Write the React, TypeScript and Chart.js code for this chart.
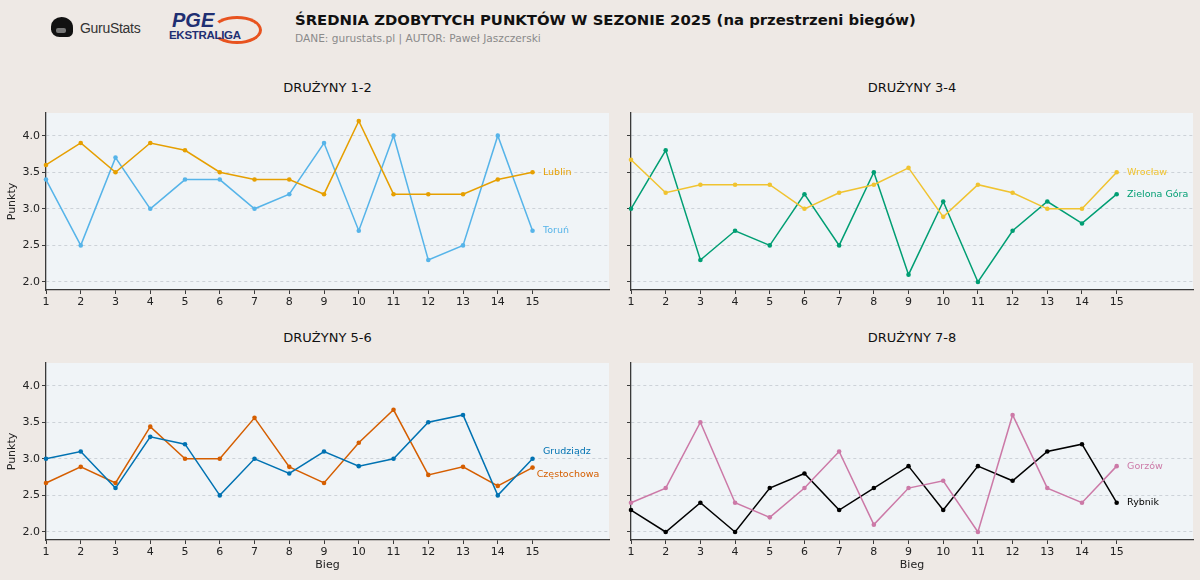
import React, { useEffect, useRef } from "react";
import { Chart, registerables } from "chart.js";

Chart.register(...registerables);

// ---------- DATA ----------
const BIEG = [1, 2, 3, 4, 5, 6, 7, 8, 9, 10, 11, 12, 13, 14, 15];
const X_TICKS = [1, 2, 3, 4, 5, 6, 7, 8, 9, 10, 11, 12, 13, 14, 15];
const Y_TICKS = [2.0, 2.5, 3.0, 3.5, 4.0];

const LUBLIN = [3.6, 3.9, 3.5, 3.9, 3.8, 3.5, 3.4, 3.4, 3.2, 4.2, 3.2, 3.2, 3.2, 3.4, 3.5];
const TORUN = [3.4, 2.5, 3.7, 3.0, 3.4, 3.4, 3.0, 3.2, 3.9, 2.7, 4.0, 2.3, 2.5, 4.0, 2.7];

const WROCLAW = [3.67, 3.22, 3.33, 3.33, 3.33, 3.0, 3.22, 3.33, 3.56, 2.89, 3.33, 3.22, 3.0, 3.0, 3.5];
const ZIELONA_GORA = [3.0, 3.8, 2.3, 2.7, 2.5, 3.2, 2.5, 3.5, 2.1, 3.1, 2.0, 2.7, 3.1, 2.8, 3.2];

const GRUDZIADZ = [3.0, 3.1, 2.6, 3.3, 3.2, 2.5, 3.0, 2.8, 3.1, 2.9, 3.0, 3.5, 3.6, 2.5, 3.0];
const CZESTOCHOWA = [2.67, 2.89, 2.67, 3.44, 3.0, 3.0, 3.56, 2.89, 2.67, 3.22, 3.67, 2.78, 2.89, 2.63, 2.88];

const GORZOW = [2.4, 2.6, 3.5, 2.4, 2.2, 2.6, 3.1, 2.1, 2.6, 2.7, 2.0, 3.6, 2.6, 2.4, 2.9];
const RYBNIK = [2.3, 2.0, 2.4, 2.0, 2.6, 2.8, 2.3, 2.6, 2.9, 2.3, 2.9, 2.7, 3.1, 3.2, 2.4];

// ---------- STYLE ----------
const FONT = "'DejaVu Sans', Verdana, sans-serif";
const PAGE_BG = "#EEE9E5";
const PLOT_BG = "#F0F4F7";
const AXIS_COLOR = "#3a3a3a";
const GRID_COLOR = "#C4CAD0";
const Y_MIN = 1.89;
const Y_MAX = 4.31;
const X_MIN = 1;
const X_MAX = 17.2;

type Series = {
  name: string;
  color: string;
  values: number[];
  labelX: number;
  labelY: number;
};

type PanelDef = {
  title: string;
  left: number;
  top: number;
  width: number;
  height: number;
  yAxisWidth: number;
  xAxisHeight: number;
  padTop: number;
  padRight: number;
  showYLabels: boolean;
  showXTitle: boolean;
  series: Series[];
};

const PANELS: PanelDef[] = [
  {
    title: "DRUŻYNY 1-2",
    left: 0, top: 100, width: 620, height: 220,
    yAxisWidth: 46, xAxisHeight: 30, padTop: 13, padRight: 11,
    showYLabels: true, showXTitle: false,
    series: [
      { name: "Lublin", color: "#E69F00", values: LUBLIN, labelX: 15.3, labelY: 3.5 },
      { name: "Toruń", color: "#56B4E9", values: TORUN, labelX: 15.3, labelY: 2.7 },
    ],
  },
  {
    title: "DRUŻYNY 3-4",
    left: 620, top: 100, width: 580, height: 220,
    yAxisWidth: 11, xAxisHeight: 30, padTop: 13, padRight: 7,
    showYLabels: false, showXTitle: false,
    series: [
      { name: "Wrocław", color: "#F0C330", values: WROCLAW, labelX: 15.3, labelY: 3.5 },
      { name: "Zielona Góra", color: "#009E73", values: ZIELONA_GORA, labelX: 15.3, labelY: 3.2 },
    ],
  },
  {
    title: "DRUŻYNY 5-6",
    left: 0, top: 350, width: 620, height: 230,
    yAxisWidth: 46, xAxisHeight: 40, padTop: 13, padRight: 11,
    showYLabels: true, showXTitle: true,
    series: [
      { name: "Grudziądz", color: "#0072B2", values: GRUDZIADZ, labelX: 15.3, labelY: 3.1 },
      { name: "Częstochowa", color: "#D55E00", values: CZESTOCHOWA, labelX: 15.12, labelY: 2.79 },
    ],
  },
  {
    title: "DRUŻYNY 7-8",
    left: 620, top: 350, width: 580, height: 230,
    yAxisWidth: 11, xAxisHeight: 40, padTop: 13, padRight: 7,
    showYLabels: false, showXTitle: true,
    series: [
      { name: "Gorzów", color: "#CC79A7", values: GORZOW, labelX: 15.3, labelY: 2.9 },
      { name: "Rybnik", color: "#000000", values: RYBNIK, labelX: 15.3, labelY: 2.4 },
    ],
  },
];

const plotBgPlugin = {
  id: "plotBg",
  beforeDraw(chart: any) {
    const { ctx, chartArea } = chart;
    if (!chartArea) return;
    ctx.save();
    ctx.fillStyle = PLOT_BG;
    ctx.fillRect(chartArea.left, chartArea.top, chartArea.right - chartArea.left, chartArea.bottom - chartArea.top);
    ctx.restore();
  },
};

const endLabelPlugin = {
  id: "endLabels",
  afterDatasetsDraw(chart: any) {
    const { ctx, scales } = chart;
    const defs: Series[] = chart.options.plugins.endLabels.series;
    ctx.save();
    ctx.font = `9.5px ${FONT}`;
    ctx.textAlign = "left";
    ctx.textBaseline = "middle";
    defs.forEach((s) => {
      ctx.fillStyle = s.color;
      ctx.fillText(s.name, scales.x.getPixelForValue(s.labelX), scales.y.getPixelForValue(s.labelY));
    });
    ctx.restore();
  },
};

function Panel({ def }: { def: PanelDef }) {
  const ref = useRef<HTMLCanvasElement | null>(null);
  useEffect(() => {
    if (!ref.current) return;
    const chart = new Chart(ref.current, {
      type: "line",
      data: {
        datasets: def.series.map((s) => ({
          label: s.name,
          data: BIEG.map((b, i) => ({ x: b, y: s.values[i] })),
          borderColor: s.color,
          backgroundColor: s.color,
          borderWidth: 1.5,
          pointRadius: 2.3,
          pointBorderWidth: 0,
          pointBackgroundColor: s.color,
          tension: 0,
          clip: false as any,
        })),
      },
      options: {
        animation: false,
        responsive: false,
        maintainAspectRatio: false,
        events: [],
        layout: { padding: { top: def.padTop, right: def.padRight, left: 0, bottom: 0 } },
        plugins: {
          legend: { display: false },
          tooltip: { enabled: false },
          title: { display: false },
          endLabels: { series: def.series },
        } as any,
        scales: {
          x: {
            type: "linear",
            min: X_MIN,
            max: X_MAX,
            afterBuildTicks: (s: any) => {
              s.ticks = X_TICKS.map((v) => ({ value: v }));
            },
            afterFit: (s: any) => {
              s.height = def.xAxisHeight;
            },
            grid: {
              display: true,
              drawOnChartArea: false,
              drawTicks: true,
              tickLength: 4,
              tickColor: AXIS_COLOR,
              tickWidth: 1,
            },
            border: { display: true, color: AXIS_COLOR, width: 1.3 },
            ticks: {
              color: "#222",
              font: { family: FONT, size: 11 },
              padding: 2,
              maxRotation: 0,
              autoSkip: false,
              callback: (v: any) => String(v),
            },
            title: {
              display: def.showXTitle,
              text: "Bieg",
              color: "#222",
              font: { family: FONT, size: 11 },
              padding: { top: 0, bottom: 8 },
            },
          },
          y: {
            type: "linear",
            min: Y_MIN,
            max: Y_MAX,
            afterBuildTicks: (s: any) => {
              s.ticks = Y_TICKS.map((v) => ({ value: v }));
            },
            afterFit: (s: any) => {
              s.width = def.yAxisWidth;
            },
            grid: {
              display: true,
              drawOnChartArea: true,
              color: GRID_COLOR,
              lineWidth: 0.8,
              drawTicks: true,
              tickLength: 4,
              tickColor: AXIS_COLOR,
              tickWidth: 1,
            },
            border: { display: true, color: AXIS_COLOR, width: 1.3, dash: [3, 3] },
            ticks: {
              display: def.showYLabels,
              color: "#222",
              font: { family: FONT, size: 11 },
              padding: 2,
              callback: (v: any) => Number(v).toFixed(1),
            },
            title: {
              display: def.showYLabels,
              text: "Punkty",
              color: "#222",
              font: { family: FONT, size: 11 },
              padding: { top: 6, bottom: 0 },
            },
          },
        },
      } as any,
      plugins: [plotBgPlugin, endLabelPlugin],
    });
    return () => chart.destroy();
  }, [def]);

  const areaLeft = def.left + def.yAxisWidth;
  const areaRight = def.left + def.width - def.padRight;
  return (
    <>
      <div
        style={{
          position: "absolute",
          left: areaLeft,
          width: areaRight - areaLeft,
          top: def.top - 20,
          textAlign: "center",
          fontFamily: FONT,
          fontSize: 13,
          color: "#111",
          lineHeight: "16px",
        }}
      >
        {def.title}
      </div>
      <canvas
        ref={ref}
        width={def.width}
        height={def.height}
        style={{ position: "absolute", left: def.left, top: def.top, width: def.width, height: def.height }}
      />
    </>
  );
}

function Header() {
  return (
    <>
      {/* GuruStats logo */}
      <div
        style={{
          position: "absolute", left: 51, top: 17, width: 22, height: 20,
          background: "#111", borderRadius: "55% 60% 30% 45%",
        }}
      />
      <div
        style={{
          position: "absolute", left: 56, top: 28, width: 10, height: 5,
          background: "#777", borderRadius: 2,
        }}
      />
      <div
        style={{
          position: "absolute", left: 80, top: 20, fontFamily: "'Liberation Sans', Arial, sans-serif",
          fontSize: 14, color: "#333", letterSpacing: -0.3, lineHeight: "16px",
        }}
      >
        GuruStats
      </div>
      {/* PGE Ekstraliga logo */}
      <div
        style={{
          position: "absolute", left: 212, top: 16, width: 50, height: 28,
          border: "3px solid #E8531F", borderLeftColor: "transparent", borderRadius: "50%",
          boxSizing: "border-box",
        }}
      />
      <div
        style={{
          position: "absolute", left: 172, top: 10, fontFamily: "'Liberation Sans', Arial, sans-serif",
          fontSize: 20, fontStyle: "italic", fontWeight: 700, color: "#1F2F72", lineHeight: "20px",
        }}
      >
        PGE
      </div>
      <div
        style={{
          position: "absolute", left: 169, top: 29, fontFamily: "'Liberation Sans', Arial, sans-serif",
          fontSize: 11.5, fontWeight: 700, color: "#1F2F72", lineHeight: "13px", letterSpacing: -0.3,
        }}
      >
        EKSTRALIGA
      </div>
      <div
        style={{
          position: "absolute", left: 295, top: 11, fontFamily: FONT, fontWeight: 700,
          fontSize: 14.85, color: "#111", lineHeight: "18px", whiteSpace: "nowrap",
        }}
      >
        ŚREDNIA ZDOBYTYCH PUNKTÓW W SEZONIE 2025 (na przestrzeni biegów)
      </div>
      <div
        style={{
          position: "absolute", left: 295, top: 31, fontFamily: FONT,
          fontSize: 10.6, color: "#8a8a8a", lineHeight: "14px", whiteSpace: "nowrap",
        }}
      >
        DANE: gurustats.pl | AUTOR: Paweł Jaszczerski
      </div>
    </>
  );
}

export default function App() {
  return (
    <div
      style={{
        position: "fixed", left: 0, top: 0, width: 1200, height: 580,
        background: PAGE_BG, overflow: "hidden",
      }}
    >
      <Header />
      {PANELS.map((p) => (
        <Panel key={p.title} def={p} />
      ))}
    </div>
  );
}
